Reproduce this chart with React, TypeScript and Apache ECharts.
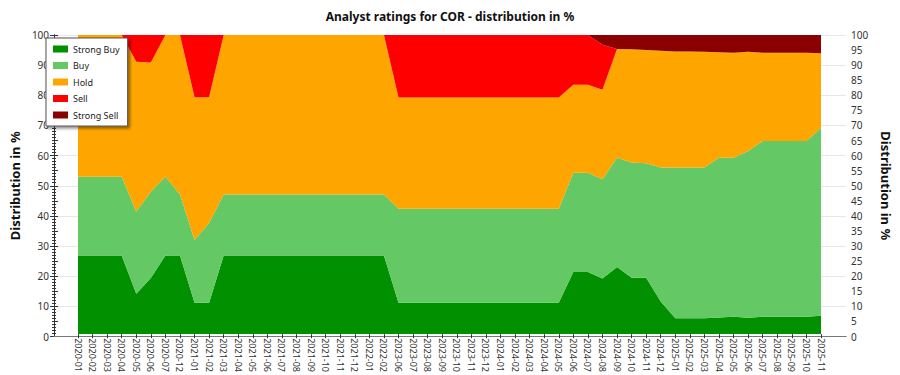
import React, { useEffect, useRef } from "react";
import * as echarts from "echarts";

const categories = [
  "2020-01", "2020-02", "2020-03", "2020-04", "2020-05", "2020-06", "2020-07", "2020-12",
  "2021-01", "2021-02", "2021-03", "2021-04", "2021-05", "2021-06", "2021-07", "2021-08",
  "2021-09", "2021-10", "2021-11", "2021-12", "2022-01", "2022-02",
  "2023-06", "2023-07", "2023-08", "2023-09", "2023-10", "2023-11", "2023-12",
  "2024-01", "2024-02", "2024-03", "2024-04", "2024-05", "2024-06", "2024-07", "2024-08",
  "2024-09", "2024-10", "2024-11", "2024-12",
  "2025-01", "2025-02", "2025-03", "2025-04", "2025-05", "2025-06", "2025-07", "2025-08",
  "2025-09", "2025-10", "2025-11",
];

const strongBuy = [
  26.3, 26.3, 26.3, 26.3, 13.5, 18.8, 26.3, 26.3,
  10.5, 10.5, 26.3, 26.3, 26.3, 26.3, 26.3, 26.3,
  26.3, 26.3, 26.3, 26.3, 26.3, 26.3,
  10.5, 10.5, 10.5, 10.5, 10.5, 10.5, 10.5,
  10.5, 10.5, 10.5, 10.5, 10.5, 20.8, 20.8, 18.6,
  22.5, 18.9, 18.9, 10.9,
  5.3, 5.3, 5.3, 5.6, 5.8, 5.5, 5.8, 5.8,
  5.8, 5.8, 6.2,
];

const buy = [
  26.3, 26.3, 26.3, 26.3, 27.5, 28.8, 26.3, 20.5,
  21.0, 26.7, 20.4, 20.4, 20.4, 20.4, 20.4, 20.4,
  20.4, 20.4, 20.4, 20.4, 20.4, 20.4,
  31.4, 31.4, 31.4, 31.4, 31.4, 31.4, 31.4,
  31.4, 31.4, 31.4, 31.4, 31.4, 33.2, 33.2, 33.2,
  36.5, 38.5, 38.2, 44.8,
  50.4, 50.4, 50.4, 53.4, 53.2, 55.7, 58.8, 58.8,
  58.8, 58.8, 62.7,
];

const hold = [
  47.4, 47.4, 47.4, 47.4, 50.1, 43.2, 47.4, 53.2,
  47.7, 42.0, 53.3, 53.3, 53.3, 53.3, 53.3, 53.3,
  53.3, 53.3, 53.3, 53.3, 53.3, 53.3,
  37.2, 37.2, 37.2, 37.2, 37.2, 37.2, 37.2,
  37.2, 37.2, 37.2, 37.2, 37.2, 29.4, 29.4, 29.9,
  36.3, 37.8, 37.9, 39.0,
  38.8, 38.8, 38.7, 35.2, 35.1, 33.2, 29.5, 29.5,
  29.5, 29.5, 25.0,
];

const sell = [
  0, 0, 0, 0, 8.9, 9.2, 0, 0,
  20.8, 20.8, 0, 0, 0, 0, 0, 0,
  0, 0, 0, 0, 0, 0,
  20.9, 20.9, 20.9, 20.9, 20.9, 20.9, 20.9,
  20.9, 20.9, 20.9, 20.9, 20.9, 16.6, 16.6, 15.0,
  0, 0, 0, 0,
  0, 0, 0, 0, 0, 0, 0, 0,
  0, 0, 0,
];

const strongSell = [
  0, 0, 0, 0, 0, 0, 0, 0,
  0, 0, 0, 0, 0, 0, 0, 0,
  0, 0, 0, 0, 0, 0,
  0, 0, 0, 0, 0, 0, 0,
  0, 0, 0, 0, 0, 0, 0, 3.3,
  4.7, 4.8, 5.0, 5.3,
  5.5, 5.5, 5.6, 5.8, 5.9, 5.6, 5.9, 5.9,
  5.9, 5.9, 6.1,
];

const seriesNames = ["Strong Buy", "Buy", "Hold", "Sell", "Strong Sell"];
const seriesColors = ["#009000", "#64c864", "#ffa500", "#ff0000", "#8b0000"];
const seriesData = [strongBuy, buy, hold, sell, strongSell];

const FONT = "'Noto Sans', 'Open Sans', sans-serif";

export default function App() {
  const ref = useRef<HTMLDivElement>(null);

  useEffect(() => {
    document.body.style.margin = "0";
    if (!ref.current) return;
    const chart = echarts.init(ref.current, null, { renderer: "svg" });
    const axisColor = "#333";
    chart.setOption({
      animation: false,
      backgroundColor: "#fff",
      textStyle: { fontFamily: FONT },
      title: {
        text: "Analyst ratings for COR - distribution in %",
        left: "center",
        top: 5,
        textStyle: { fontSize: 12, fontWeight: "bold", color: "#111", fontFamily: FONT },
      },
      legend: {
        orient: "vertical",
        left: 46,
        top: 38,
        data: seriesNames,
        icon: "rect",
        itemWidth: 15,
        itemHeight: 7,
        itemGap: 4.5,
        padding: [5, 8, 5, 7],
        backgroundColor: "#fff",
        borderColor: "#555",
        borderWidth: 1,
        shadowColor: "rgba(0,0,0,0.45)",
        shadowBlur: 3,
        shadowOffsetX: 2,
        shadowOffsetY: 2,
        textStyle: { fontSize: 9, lineHeight: 12, color: "#222", fontFamily: FONT },
      },
      grid: [
        { left: 78, right: 79, top: 35, bottom: 38.5 },
        { left: 40, right: 41, top: 35, bottom: 38.5 },
      ],
      xAxis: [
        {
          type: "category",
          gridIndex: 0,
          data: categories,
          boundaryGap: false,
          axisLine: { show: false },
          axisTick: { show: true, length: 4, interval: 0, lineStyle: { color: axisColor } },
          axisLabel: {
            interval: 0,
            rotate: -90,
            fontSize: 9,
            color: "#333",
            margin: 4,
            fontFamily: FONT,
          },
          splitLine: { show: false },
          z: 4,
        },
        {
          type: "value",
          gridIndex: 1,
          position: "bottom",
          min: 0,
          max: 1,
          axisLine: { show: true, lineStyle: { color: axisColor } },
          axisTick: { show: false },
          axisLabel: { show: false },
          splitLine: { show: false },
          z: 4,
        },
        {
          type: "value",
          gridIndex: 1,
          position: "top",
          min: 0,
          max: 1,
          axisLine: { show: true, lineStyle: { color: "#777" } },
          axisTick: { show: false },
          axisLabel: { show: false },
          splitLine: { show: false },
          z: 4,
        },
      ],
      yAxis: [
        { type: "value", gridIndex: 0, min: 0, max: 100, show: false },
        {
          type: "value",
          gridIndex: 1,
          position: "left",
          min: 0,
          max: 100,
          interval: 10,
          axisLine: { show: true, lineStyle: { color: axisColor } },
          axisTick: { show: true, length: 4, lineStyle: { color: axisColor } },
          minorTick: { show: true, splitNumber: 10, length: 2, lineStyle: { color: axisColor } },
          axisLabel: { fontSize: 10, color: "#333", margin: 5, fontFamily: FONT },
          splitLine: { show: true, lineStyle: { color: "#e6e6e6", width: 1 } },
          name: "Distribution in %",
          nameLocation: "middle",
          nameGap: 28,
          nameTextStyle: { fontSize: 13, fontWeight: "bold", color: "#111", fontFamily: FONT },
        },
        {
          type: "value",
          gridIndex: 1,
          position: "right",
          min: 0,
          max: 100,
          interval: 5,
          axisLine: { show: true, lineStyle: { color: axisColor } },
          axisTick: { show: true, length: 4, lineStyle: { color: axisColor } },
          minorTick: { show: true, splitNumber: 5, length: 2, lineStyle: { color: axisColor } },
          axisLabel: { fontSize: 10, color: "#333", margin: 5, fontFamily: FONT },
          splitLine: { show: false },
          name: "Distribution in %",
          nameLocation: "middle",
          nameRotate: -90,
          nameGap: 33,
          nameTextStyle: { fontSize: 13, fontWeight: "bold", color: "#111", fontFamily: FONT },
        },
      ],
      series: seriesNames.map((name, i) => ({
        name,
        type: "line",
        xAxisIndex: 0,
        yAxisIndex: 0,
        stack: "total",
        data: seriesData[i],
        symbol: "none",
        lineStyle: { width: 0 },
        areaStyle: { color: seriesColors[i], opacity: 1 },
        itemStyle: { color: seriesColors[i] },
        z: 2,
      })),
    });
    return () => chart.dispose();
  }, []);

  return <div ref={ref} style={{ width: 900, height: 375 }} />;
}
